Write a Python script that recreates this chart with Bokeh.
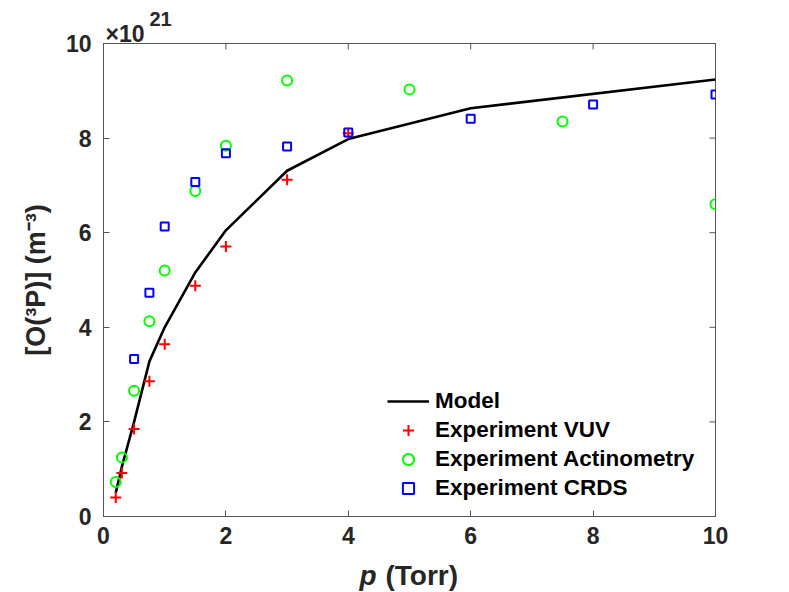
import math
from bokeh.plotting import figure
from bokeh.models import Range1d, Label, FixedTicker
from bokeh.embed import file_html
from bokeh.resources import INLINE

# ---- data (values in units of 1e21 m^-3) ----
p_model = [0.2, 0.3, 0.5, 0.75, 1, 1.5, 2, 3, 4, 6, 10]
o_model = [0.5, 1.05, 2.0, 3.28, 4.0, 5.16, 6.05, 7.31, 7.98, 8.63, 9.24]

p_vuv = [0.2, 0.3, 0.5, 0.75, 1, 1.5, 2, 3, 4]
o_vuv = [0.40, 0.92, 1.85, 2.86, 3.64, 4.88, 5.71, 7.12, 8.10]

p_act = [0.2, 0.3, 0.5, 0.75, 1, 1.5, 2, 3, 5, 7.5, 10]
o_act = [0.73, 1.25, 2.66, 4.13, 5.20, 6.88, 7.84, 9.22, 9.03, 8.35, 6.60]

p_crds = [0.5, 0.75, 1, 1.5, 2, 3, 4, 6, 8, 10]
o_crds = [3.33, 4.73, 6.13, 7.07, 7.68, 7.82, 8.12, 8.41, 8.71, 8.92]

x_ticks = [0, 2, 4, 6, 8, 10]
y_ticks = [0, 2, 4, 6, 8, 10]
x_max = 10
y_max = 10

FONT = "Liberation Sans"
AX = "#555555"
TXT = "#262626"

p = figure(width=789, height=592, output_backend="svg", toolbar_location=None,
           x_range=Range1d(0, x_max), y_range=Range1d(0, y_max),
           min_border_left=103, min_border_right=74, min_border_top=43, min_border_bottom=76)
p.outline_line_color = AX
p.outline_line_width = 1
p.xgrid.visible = False
p.ygrid.visible = False
p.background_fill_color = "white"

# inward ticks on the top and right edges of the box (clipped to the frame)
p.scatter(x_ticks, [y_max] * len(x_ticks), marker="dash", angle=math.pi / 2, size=12,
          line_color=AX, line_width=1)
p.scatter([x_max] * len(y_ticks), y_ticks, marker="dash", size=12,
          line_color=AX, line_width=1)

p.line(p_model, o_model, line_color="black", line_width=2.6, legend_label="Model")
p.scatter(p_vuv, o_vuv, marker="cross", size=11, line_width=2, line_color="#ff0000",
          legend_label="Experiment VUV")
p.scatter(p_act, o_act, marker="circle", size=10, line_width=2, line_color="#00ff00",
          fill_color=None, legend_label="Experiment Actinometry")
p.scatter(p_crds, o_crds, marker="square", size=8, line_width=2, line_color="#0000ff",
          fill_color=None, legend_label="Experiment CRDS")

def style_axis(ax, ticks):
    ax.ticker = FixedTicker(ticks=ticks)
    ax.minor_tick_line_color = None
    ax.major_tick_in = 6
    ax.major_tick_out = 0
    ax.major_tick_line_color = AX
    ax.axis_line_color = AX
    ax.axis_line_width = 1
    ax.major_label_text_font = FONT
    ax.major_label_text_font_style = "bold"
    ax.major_label_text_color = TXT
    ax.major_label_text_font_size = "23px"

style_axis(p.xaxis[0], x_ticks)
style_axis(p.yaxis[0], y_ticks)
p.xaxis[0].major_label_standoff = 10
p.yaxis[0].major_label_standoff = 12

p.yaxis[0].axis_label = "[O(³P)] (m⁻³)"
p.yaxis[0].axis_label_text_font = FONT
p.yaxis[0].axis_label_text_font_style = "bold"
p.yaxis[0].axis_label_text_font_size = "27px"
p.yaxis[0].axis_label_text_color = TXT
p.yaxis[0].axis_label_standoff = 12

# x-axis label: italic p + (Torr); side-panel labels are not clipped to the frame
p.add_layout(Label(x=5, y=0, x_offset=-33, y_offset=-59, text="p", text_align="right",
                   text_baseline="alphabetic", text_font=FONT, text_font_style="bold italic",
                   text_font_size="28px", text_color=TXT), "right")
p.add_layout(Label(x=5, y=0, x_offset=-24, y_offset=-59, text="(Torr)", text_align="left",
                   text_baseline="alphabetic", text_font=FONT, text_font_style="bold",
                   text_font_size="28px", text_color=TXT), "below")

# exponent label above the box
p.add_layout(Label(x=0, y=y_max, x_offset=2, y_offset=10, text="×10", text_align="left",
                   text_baseline="alphabetic", text_font=FONT, text_font_style="bold",
                   text_font_size="23px", text_color=TXT), "above")
p.add_layout(Label(x=0, y=y_max, x_offset=46, y_offset=25, text="21", text_align="left",
                   text_baseline="alphabetic", text_font=FONT, text_font_style="bold",
                   text_font_size="20px", text_color=TXT), "right")

lg = p.legend[0]
lg.location = (284, 14)
lg.padding = 0
lg.margin = 0
lg.spacing = 1
lg.border_line_color = None
lg.background_fill_alpha = 0
lg.glyph_width = 42
lg.glyph_height = 28
lg.label_height = 28
lg.label_standoff = 6
lg.label_text_font = FONT
lg.label_text_font_style = "bold"
lg.label_text_font_size = "22.5px"
lg.label_text_color = "black"

open("out.html", "w").write(file_html(p, INLINE))
